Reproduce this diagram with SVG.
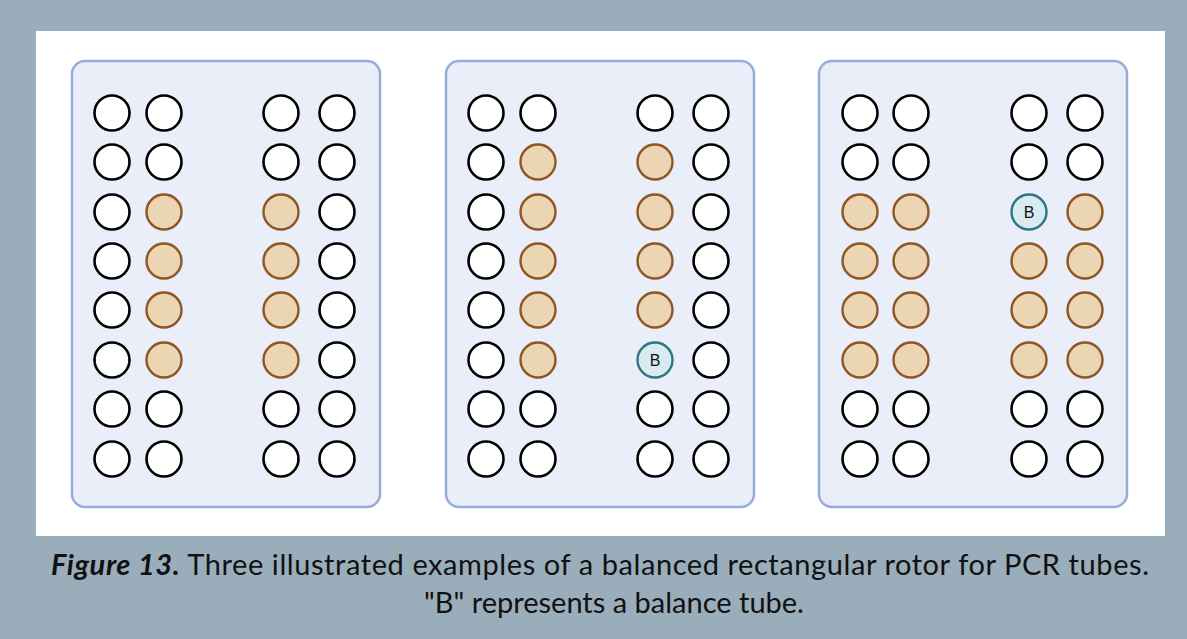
<svg xmlns="http://www.w3.org/2000/svg" width="1187" height="639" viewBox="0 0 1187 639">
  <defs>
    <style>
      .panel { fill: #e9eef9; stroke: #97acd9; stroke-width: 2.5; }
      .empty { fill: #ffffff; stroke: #000000; stroke-width: 2.6; }
      .full { fill: #ebd5b3; stroke: #8e5624; stroke-width: 2.4; }
      .bal { fill: #d8ebf3; stroke: #2e7587; stroke-width: 2.4; }
      .blabel { font-family: "Liberation Sans", Arial, sans-serif; font-size: 16px; fill: #111111; text-anchor: middle; }
      .caption { font-family: Lato, "Noto Sans", sans-serif; font-size: 29px; fill: #111111; text-anchor: middle; }
    </style>
    <circle id="e" r="17.5" class="empty"/>
    <circle id="f" r="17.5" class="full"/>
    <circle id="b" r="17.5" class="bal"/>
  </defs>

  <!-- frame -->
  <rect x="0" y="0" width="1187" height="639" fill="#9aadbb"/>
  <rect x="36" y="31" width="1129" height="505" fill="#ffffff"/>

  <!-- rotor 1: two columns of four loaded tubes -->
  <g id="rotor1">
    <rect class="panel" x="72" y="61" width="308" height="446" rx="13"/>
    <g transform="translate(112,0)">
      <use href="#e" y="113"/><use href="#e" y="162"/><use href="#e" y="212"/><use href="#e" y="261"/>
      <use href="#e" y="310"/><use href="#e" y="360"/><use href="#e" y="409"/><use href="#e" y="459"/>
    </g>
    <g transform="translate(164,0)">
      <use href="#e" y="113"/><use href="#e" y="162"/><use href="#f" y="212"/><use href="#f" y="261"/>
      <use href="#f" y="310"/><use href="#f" y="360"/><use href="#e" y="409"/><use href="#e" y="459"/>
    </g>
    <g transform="translate(281,0)">
      <use href="#e" y="113"/><use href="#e" y="162"/><use href="#f" y="212"/><use href="#f" y="261"/>
      <use href="#f" y="310"/><use href="#f" y="360"/><use href="#e" y="409"/><use href="#e" y="459"/>
    </g>
    <g transform="translate(337,0)">
      <use href="#e" y="113"/><use href="#e" y="162"/><use href="#e" y="212"/><use href="#e" y="261"/>
      <use href="#e" y="310"/><use href="#e" y="360"/><use href="#e" y="409"/><use href="#e" y="459"/>
    </g>
  </g>

  <!-- rotor 2: nine samples plus one balance tube -->
  <g id="rotor2">
    <rect class="panel" x="446" y="61" width="308" height="446" rx="13"/>
    <g transform="translate(486,0)">
      <use href="#e" y="113"/><use href="#e" y="162"/><use href="#e" y="212"/><use href="#e" y="261"/>
      <use href="#e" y="310"/><use href="#e" y="360"/><use href="#e" y="409"/><use href="#e" y="459"/>
    </g>
    <g transform="translate(538,0)">
      <use href="#e" y="113"/><use href="#f" y="162"/><use href="#f" y="212"/><use href="#f" y="261"/>
      <use href="#f" y="310"/><use href="#f" y="360"/><use href="#e" y="409"/><use href="#e" y="459"/>
    </g>
    <g transform="translate(655,0)">
      <use href="#e" y="113"/><use href="#f" y="162"/><use href="#f" y="212"/><use href="#f" y="261"/>
      <use href="#f" y="310"/><use href="#b" y="360"/><use href="#e" y="409"/><use href="#e" y="459"/>
      <text class="blabel" x="0" y="366">B</text>
    </g>
    <g transform="translate(711,0)">
      <use href="#e" y="113"/><use href="#e" y="162"/><use href="#e" y="212"/><use href="#e" y="261"/>
      <use href="#e" y="310"/><use href="#e" y="360"/><use href="#e" y="409"/><use href="#e" y="459"/>
    </g>
  </g>

  <!-- rotor 3: fifteen samples plus one balance tube -->
  <g id="rotor3">
    <rect class="panel" x="819" y="61" width="308" height="446" rx="13"/>
    <g transform="translate(860,0)">
      <use href="#e" y="113"/><use href="#e" y="162"/><use href="#f" y="212"/><use href="#f" y="261"/>
      <use href="#f" y="310"/><use href="#f" y="360"/><use href="#e" y="409"/><use href="#e" y="459"/>
    </g>
    <g transform="translate(911,0)">
      <use href="#e" y="113"/><use href="#e" y="162"/><use href="#f" y="212"/><use href="#f" y="261"/>
      <use href="#f" y="310"/><use href="#f" y="360"/><use href="#e" y="409"/><use href="#e" y="459"/>
    </g>
    <g transform="translate(1029,0)">
      <use href="#e" y="113"/><use href="#e" y="162"/><use href="#b" y="212"/><use href="#f" y="261"/>
      <use href="#f" y="310"/><use href="#f" y="360"/><use href="#e" y="409"/><use href="#e" y="459"/>
      <text class="blabel" x="0" y="218">B</text>
    </g>
    <g transform="translate(1085,0)">
      <use href="#e" y="113"/><use href="#e" y="162"/><use href="#f" y="212"/><use href="#f" y="261"/>
      <use href="#f" y="310"/><use href="#f" y="360"/><use href="#e" y="409"/><use href="#e" y="459"/>
    </g>
  </g>

  <!-- caption -->
  <g id="caption">
    <text class="caption" x="600" y="575" textLength="1098" lengthAdjust="spacing"><tspan font-weight="bold" font-style="italic">Figure 13.</tspan> Three illustrated examples of a balanced rectangular rotor for PCR tubes.</text>
    <text class="caption" x="614" y="613">"B" represents a balance tube.</text>
  </g>
</svg>
